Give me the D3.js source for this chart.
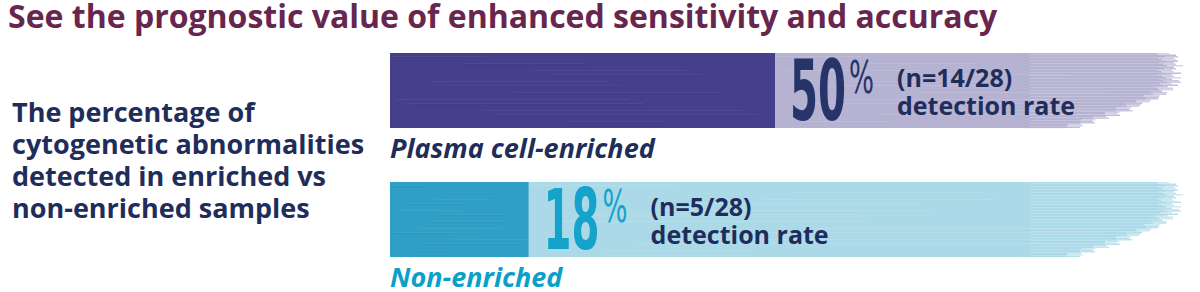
<!DOCTYPE html>
<html>
<head>
<meta charset="utf-8">
<script src="https://cdn.jsdelivr.net/npm/d3@7"></script>
<style>
  body { margin: 0; background: #fff; }
  svg { display: block; font-family: 'Open Sans', sans-serif; }
</style>
</head>
<body>
<div id="main"></div>
<script>
/// data ///
const categories = ['Plasma cell-enriched', 'Non-enriched'];
const detected = [14, 5];
const totals = [28, 28];
const rates = [50, 18];          // detection rate, %
const title = 'See the prognostic value of enhanced sensitivity and accuracy';
const sideText = ['The percentage of', 'cytogenetic abnormalities', 'detected in enriched vs', 'non-enriched samples'];

// colours per bar: [dark fill, light track, big number, category label]
const palette = [
    ['#463f8b', '#b5b2d2', '#26346a', '#1f2d5b'],
    ['#2f9fc6', '#abd9e8', '#15a3cb', '#0aa0c8']
];

const w = 1200, h = 292;
const navy = '#1f2d5b';

let svg = d3.select('#main')
    .append('svg')
    .attr('width', w)
    .attr('height', h);

// title
svg.append('text')
    .attr('x', 8)
    .attr('y', 28)
    .attr('fill', '#68264f')
    .style('font-size', '32px')
    .style('font-weight', 700)
    .text(title);

// side text block
svg.append('g')
    .selectAll('text')
    .data(sideText)
    .enter()
    .append('text')
    .attr('x', 12)
    .attr('y', (d, i) => 122 + i * 32)
    .attr('fill', navy)
    .style('font-size', '27px')
    .style('font-weight', 700)
    .text(d => d);

// scales
let xScale = d3.scaleLinear()
    .domain([0, 100])
    .range([390, 1160]);

const bh = 75;   // bar thickness
let yScale = d3.scaleBand()
    .domain(categories)
    .range([53, 257])
    .paddingInner(54 / 129)
    .paddingOuter(0);

// brush edge: rows of strokes that taper at the bottom right
let brushEdge = (g, y0, color) => {
    const end = xScale(100) + 14;
    const rows = Math.round(bh / 1.5);
    for (let i = 0; i < rows; i++) {
        let t = i / (rows - 1);
        let taper = t < 0.4 ? 0 : Math.pow((t - 0.4) / 0.6, 1.5) * 100;
        let jitter = ((i * 37) % 11) - 5;
        let x2 = end - taper + jitter;
        // solid part
        g.append('rect')
            .attr('x', 1020)
            .attr('y', y0 + i * 1.5)
            .attr('width', Math.max(0, x2 - 1020 - 12))
            .attr('height', 1.6)
            .attr('fill', color);
        // feathered tip
        g.append('rect')
            .attr('x', x2 - 12)
            .attr('y', y0 + i * 1.5)
            .attr('width', 12 + ((i * 13) % 5))
            .attr('height', 1.5)
            .attr('fill', color)
            .attr('opacity', 0.55 + ((i * 7) % 4) * 0.1);
    }
};

// streak texture
let streaks = (g, x0, x1, y0, color, n, op) => {
    for (let i = 0; i < n; i++) {
        let yy = y0 + 3 + ((i * 29) % (bh - 6));
        let a = x0 + ((i * 53) % Math.max(1, (x1 - x0) * 0.5));
        let len = (x1 - x0) * (0.25 + ((i * 17) % 7) / 14);
        g.append('rect')
            .attr('x', a)
            .attr('y', yy)
            .attr('width', Math.max(0, Math.min(len, x1 - a)))
            .attr('height', 1)
            .attr('fill', color)
            .attr('opacity', op);
    }
};

categories.forEach((cat, i) => {
    let y0 = yScale(cat);
    let g = svg.append('g').attr('class', 'bar');
    let [dark, light, numColor, labColor] = palette[i];

    // light track (100 %)
    g.append('rect')
        .attr('x', xScale(0))
        .attr('y', y0)
        .attr('width', 1030 - xScale(0))
        .attr('height', bh)
        .attr('fill', light);
    brushEdge(g, y0, light);
    streaks(g, xScale(rates[i]), 1120, y0, '#ffffff', 12, 0.12);

    // dark value bar
    g.append('rect')
        .attr('x', xScale(0))
        .attr('y', y0)
        .attr('width', xScale(rates[i]) - xScale(0))
        .attr('height', bh)
        .attr('fill', dark);
    streaks(g, xScale(0), xScale(rates[i]), y0, '#ffffff', 12, 0.06);
    streaks(g, xScale(0), xScale(rates[i]), y0 + 1, '#000000', 8, 0.04);

    // big percentage
    let nx = xScale(rates[i]) + 15;
    g.append('text')
        .attr('x', nx)
        .attr('y', y0 + 67)
        .attr('fill', numColor)
        .attr('textLength', 56)
        .attr('lengthAdjust', 'spacingAndGlyphs')
        .style('font-family', "'Liberation Sans Narrow', 'DejaVu Sans Condensed', sans-serif")
        .style('font-size', '83px')
        .style('font-weight', 700)
        .text(rates[i]);

    g.append('text')
        .attr('x', nx + 59)
        .attr('y', y0 + 40)
        .attr('fill', numColor)
        .attr('textLength', 25)
        .attr('lengthAdjust', 'spacingAndGlyphs')
        .style('font-family', "'Liberation Sans Narrow', 'DejaVu Sans Condensed', sans-serif")
        .style('font-size', '45px')
        .style('font-weight', 400)
        .text('%');

    // n and detection rate
    let tx = nx + 107;
    g.append('text')
        .attr('x', tx)
        .attr('y', y0 + 34)
        .attr('fill', navy)
        .style('font-size', '25px')
        .style('font-weight', 700)
        .text(`(n=${detected[i]}/${totals[i]})`);
    g.append('text')
        .attr('x', tx)
        .attr('y', y0 + 62)
        .attr('fill', navy)
        .style('font-size', '25px')
        .style('font-weight', 700)
        .text('detection rate');

    // category label under the bar
    g.append('text')
        .attr('x', xScale(0))
        .attr('y', y0 + bh + 30)
        .attr('fill', labColor)
        .style('font-size', '27px')
        .style('font-weight', 700)
        .style('font-style', 'italic')
        .text(cat);
});
</script>
</body>
</html>
